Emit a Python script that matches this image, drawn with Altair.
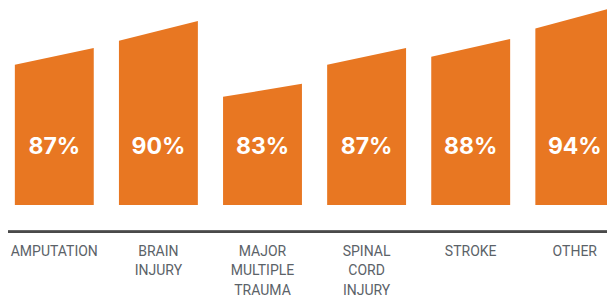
import altair as alt
import numpy as np
import pandas as pd

# ---- data ----
categories = ["AMPUTATION", "BRAIN\nINJURY", "MAJOR\nMULTIPLE\nTRAUMA",
              "SPINAL\nCORD\nINJURY", "STROKE", "OTHER"]
values = [87, 90, 83, 87, 88, 94]
value_labels = ["87%", "90%", "83%", "87%", "88%", "94%"]

# ---- styling / scale configuration ----
ORANGE = "#E87722"
GRAY_TEXT = "#5b6268"
LINE = "#4a4a4a"
W, H = 599, 291                      # fits the 615x307 window with its 8px margin
BASE_PX = 197.0                      # bar foot (chart px)
Y_DOMAIN = [69.5, 83, 90, 94]        # piecewise value scale of the design
Y_HEIGHTS = [0.0, 108.2, 164.2, 176.6]
Y_RANGE = [BASE_PX - h for h in Y_HEIGHTS]
SLANT = 1.12                         # right edge is 12% taller than left
HALF = 0.379                         # half bar width in slot units
X_DOMAIN = [-0.4448, 5.3093]


def height_to_value(h):
    """Invert the piecewise height scale (extrapolating the end segments)."""
    d, r = Y_DOMAIN, Y_HEIGHTS
    for i in range(len(d) - 1):
        if h <= r[i + 1] or i == len(d) - 2:
            return d[i] + (h - r[i]) * (d[i + 1] - d[i]) / (r[i + 1] - r[i])


rows = []
for i, (c, v) in enumerate(zip(categories, values)):
    h_left = float(np.interp(v, Y_DOMAIN, Y_HEIGHTS))
    rows.append({"cat": c, "x": i - HALF, "top": v, "base": Y_DOMAIN[0]})
    rows.append({"cat": c, "x": i + HALF, "top": height_to_value(SLANT * h_left),
                 "base": Y_DOMAIN[0]})
bars_df = pd.DataFrame(rows)

labels_df = pd.DataFrame({"idx": list(range(len(categories))),
                          "cat": categories, "lab": value_labels})

xs = alt.Scale(domain=X_DOMAIN, nice=False, zero=False)
ys = alt.Scale(domain=Y_DOMAIN, range=Y_RANGE, nice=False, zero=False)

bars = alt.Chart(bars_df).mark_area(color=ORANGE, clip=True, opacity=1).encode(
    x=alt.X("x:Q", scale=xs, axis=None),
    y=alt.Y("top:Q", scale=ys, axis=None),
    y2="base:Q",
    detail="cat:N",
)

pct = alt.Chart(labels_df).mark_text(
    font="Inter", fontWeight="bold", fontSize=23, color="white",
    baseline="alphabetic", align="center",
).encode(
    x=alt.X("idx:Q", scale=xs, axis=None),
    y=alt.value(146.2),
    text="lab:N",
)

cats = alt.Chart(labels_df).mark_text(
    font="Roboto", fontSize=14, color=GRAY_TEXT, baseline="alphabetic",
    align="center", lineBreak="\n", lineHeight=19.6,
).encode(
    x=alt.X("idx:Q", scale=xs, axis=None),
    y=alt.value(247.6),
    text="cat:N",
)

rule = alt.Chart(labels_df).mark_rule(color=LINE, strokeWidth=2).encode(
    x=alt.value(0), x2=alt.value(W), y=alt.value(223.8)
)

chart = alt.layer(bars, rule, pct, cats).properties(
    width=W, height=H, autosize=alt.AutoSizeParams(type="none"), padding=0
).configure_view(stroke=None)

chart.save("out.html", embed_options={"renderer": "svg", "actions": False})
